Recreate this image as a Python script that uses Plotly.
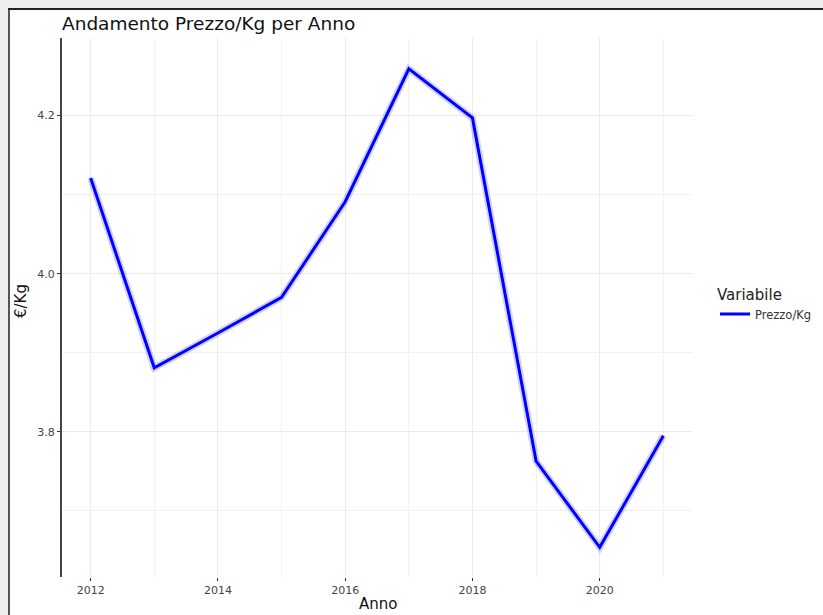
import plotly.graph_objects as go

anni = [2012, 2013, 2014, 2015, 2016, 2017, 2018, 2019, 2020, 2021]
prezzo_kg = [4.121, 3.881, 3.925, 3.970, 4.091, 4.259, 4.197, 3.763, 3.654, 3.795]
serie_nome = "Prezzo/Kg"
x_ticks = [2012, 2014, 2016, 2018, 2020]
y_ticks = [3.8, 4.0, 4.2]
y_tick_labels = ["3.8", "4.0", "4.2"]

OFF = 8  # page body margin (left/top)
W, H = 823 - OFF, 615 - OFF
L, R, T, B = 62 - OFF, 131, 38 - OFF, 38
pw, ph = W - L - R, H - T - B

def px_x(p):
    return (p - OFF - L) / pw

def px_y(p):
    return (H - B - (p - OFF)) / ph

fig = go.Figure()
fig.add_trace(go.Scatter(x=anni, y=prezzo_kg, mode="lines",
                         line=dict(color="rgba(0,0,255,0.18)", width=7),
                         showlegend=False, hoverinfo="skip"))
fig.add_trace(go.Scatter(x=anni, y=prezzo_kg, mode="lines", name=serie_nome,
                         line=dict(color="#0000ff", width=3)))

grid = "#ebebeb"
fig.update_layout(
    width=W, height=H,
    margin=dict(l=L, r=R, t=T, b=B, pad=0, autoexpand=False),
    paper_bgcolor="white", plot_bgcolor="white",
    font=dict(family="DejaVu Sans, Liberation Sans, sans-serif", color="#222"),
    title=dict(text="Andamento Prezzo/Kg per Anno", x=px_x(62), xanchor="left",
               y=1 - (24 - OFF) / H, yanchor="middle", xref="paper",
               font=dict(size=18.5, color="#111")),
    legend=dict(title=dict(text="Variabile", font=dict(size=15, color="#222")),
                x=px_x(715), xanchor="left", y=px_y(280), yanchor="top",
                font=dict(size=11.5, color="#333"), bgcolor="rgba(0,0,0,0)"),
    xaxis=dict(range=[2011.55, 2021.45], tickvals=x_ticks,
               ticktext=[str(v) for v in x_ticks], automargin=False,
               showgrid=True, gridcolor=grid, gridwidth=1,
               minor=dict(dtick=1, tick0=2012, showgrid=True, gridcolor="#f2f2f2", gridwidth=1),
               ticks="outside", ticklen=3, tickcolor="#333", tickwidth=1,
               tickfont=dict(size=11, color="#444"), showline=False, zeroline=False),
    yaxis=dict(range=[3.6165, 4.298], tickvals=y_ticks, ticktext=y_tick_labels,
               automargin=False,
               showgrid=True, gridcolor=grid, gridwidth=1,
               minor=dict(dtick=0.1, tick0=3.7, showgrid=True, gridcolor="#f2f2f2", gridwidth=1),
               ticks="outside", ticklen=3, tickcolor="#333", tickwidth=1,
               tickfont=dict(size=11, color="#444"),
               showline=True, linecolor="#444", linewidth=2, zeroline=False),
    annotations=[
        dict(text="Anno", xref="paper", yref="paper", x=px_x(378), y=px_y(604),
             xanchor="center", yanchor="middle", showarrow=False,
             font=dict(size=15, color="#111")),
        dict(text="€/Kg", xref="paper", yref="paper", x=px_x(21), y=px_y(301),
             xanchor="center", yanchor="middle", showarrow=False, textangle=-90,
             font=dict(size=15, color="#111")),
    ],
    shapes=[
        dict(type="line", xref="paper", yref="paper", x0=px_x(9), x1=px_x(9),
             y0=px_y(8), y1=px_y(H + OFF + 2), line=dict(color="#555", width=2)),
        dict(type="line", xref="paper", yref="paper", x0=px_x(8), x1=px_x(W + OFF + 2),
             y0=px_y(9), y1=px_y(9), line=dict(color="#222", width=2)),
    ],
)

fig.write_html("out.html", config={"displayModeBar": False},
               post_script="document.body.style.background='#eeeeee';"
                           "document.body.style.margin='8px 0 0 8px';"
                           "document.documentElement.style.overflow='hidden';"
                           "document.body.style.overflow='hidden';")
